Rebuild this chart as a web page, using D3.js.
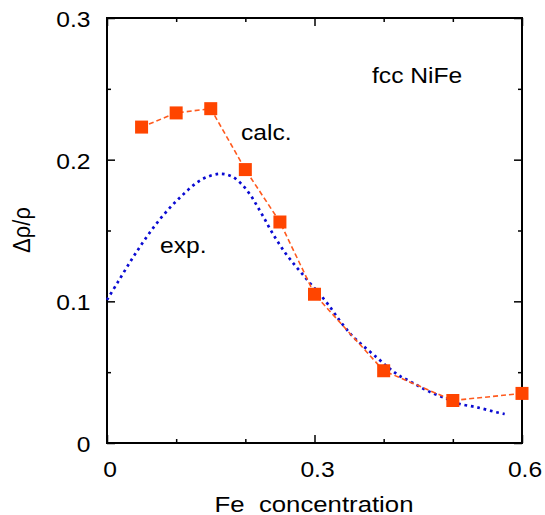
<!DOCTYPE html>
<html>
<head>
<meta charset="utf-8">
<script src="https://cdn.jsdelivr.net/npm/d3@7"></script>
<style>
  html, body { margin: 0; padding: 0; background: #fff; }
  svg { display: block; }
  text { font-family: "Liberation Sans", Arial, Helvetica, sans-serif; fill: #000; }
</style>
</head>
<body>
<svg id="chart" width="545" height="515"></svg>
<script>
// Calculated resistivity anisotropy (squares joined by a dashed line)
const calcX = [0.05, 0.10, 0.15, 0.20, 0.25, 0.30, 0.40, 0.50, 0.60];
const calcY = [0.223, 0.233, 0.236, 0.193, 0.156, 0.105, 0.051, 0.030, 0.035];

// Experimental curve (dotted)
const expX = [0, 0.015, 0.035, 0.056, 0.080, 0.107, 0.137, 0.163, 0.181, 0.196,
              0.208, 0.218, 0.228, 0.237, 0.247, 0.258, 0.270, 0.282, 0.295, 0.307,
              0.321, 0.337, 0.354, 0.370, 0.391, 0.406, 0.421, 0.440, 0.464, 0.491,
              0.509, 0.535, 0.563, 0.575];
const expY = [0.101, 0.113, 0.129, 0.1445, 0.160, 0.174, 0.186, 0.190, 0.188, 0.182,
              0.1745, 0.1665, 0.158, 0.150, 0.142, 0.134, 0.1265, 0.1195, 0.112, 0.1055,
              0.097, 0.086, 0.076, 0.0687, 0.060, 0.0536, 0.048, 0.043, 0.0367, 0.0313,
              0.0277, 0.0252, 0.0217, 0.0205];

// Tick values
const xMajorTicks = [0, 0.3, 0.6];
const xMinorTicks = [0.1, 0.2, 0.4, 0.5];
const yMajorTicks = [0, 0.1, 0.2, 0.3];
const yMinorTicks = [0.05, 0.15, 0.25];
const xTickLabels = ["0", "0.3", "0.6"];
const yTickLabels = ["0", "0.1", "0.2", "0.3"];

const svg = d3.select("#chart");
const plotLeft = 107, plotRight = 522, plotTop = 18, plotBottom = 443;
const SX = 1.12; // horizontal glyph stretch

const x = d3.scaleLinear().domain([0, 0.6]).range([plotLeft, plotRight]);
const y = d3.scaleLinear().domain([0, 0.3]).range([plotBottom, plotTop]);

// helper: stretched text
function label(g, txt, tx, ty, anchor, size, extra) {
  return g.append("text")
    .attr("transform", `translate(${tx},${ty}) scale(${SX},1)` + (extra || ""))
    .attr("text-anchor", anchor)
    .style("font-size", size + "px")
    .text(txt);
}

// ticks on all four sides, pointing inward
function ticks(axisFn, scale, vals, size, transform) {
  const g = svg.append("g").attr("transform", transform)
    .call(axisFn(scale).tickValues(vals).tickSize(-size).tickSizeOuter(0).tickFormat(""));
  g.select(".domain").remove();
  g.selectAll(".tick line").attr("stroke", "#000").attr("stroke-width", 1.5);
  g.selectAll(".tick text").remove();
}
ticks(d3.axisBottom, x, xMajorTicks, 8, `translate(0,${plotBottom})`);
ticks(d3.axisBottom, x, xMinorTicks, 4, `translate(0,${plotBottom})`);
ticks(d3.axisTop, x, xMajorTicks, 8, `translate(0,${plotTop})`);
ticks(d3.axisTop, x, xMinorTicks, 4, `translate(0,${plotTop})`);
ticks(d3.axisLeft, y, yMajorTicks, 8, `translate(${plotLeft},0)`);
ticks(d3.axisLeft, y, yMinorTicks, 4, `translate(${plotLeft},0)`);
ticks(d3.axisRight, y, yMajorTicks, 8, `translate(${plotRight},0)`);
ticks(d3.axisRight, y, yMinorTicks, 4, `translate(${plotRight},0)`);

// frame
svg.append("rect")
  .attr("x", plotLeft).attr("y", plotTop)
  .attr("width", plotRight - plotLeft).attr("height", plotBottom - plotTop)
  .attr("fill", "none").attr("stroke", "#000").attr("stroke-width", 2);

// tick labels
const lbl = svg.append("g");
xMajorTicks.forEach((v, i) => label(lbl, xTickLabels[i], x(v) + 3, 476.5, "middle", 22));
yMajorTicks.forEach((v, i) => label(lbl, yTickLabels[i], 90.5, y(v) + 9, "end", 22));

// axis titles
label(svg, "Fe\u00a0\u00a0concentration", 314, 512, "middle", 23);
label(svg, "\u0394\u03c1/\u03c1", 30, 230, "middle", 22, " rotate(-90)");

// experimental curve
const expData = expX.map((v, i) => [v, expY[i]]);
svg.append("path")
  .datum(expData)
  .attr("d", d3.line().x(d => x(d[0])).y(d => y(d[1])).curve(d3.curveCatmullRom))
  .attr("fill", "none")
  .attr("stroke", "#0a0ad2")
  .attr("stroke-width", 2.7)
  .attr("stroke-dasharray", "2.7,3.8");

// calculated values
const calcData = calcX.map((v, i) => [v, calcY[i]]);
svg.append("path")
  .datum(calcData)
  .attr("d", d3.line().x(d => x(d[0])).y(d => y(d[1])))
  .attr("fill", "none")
  .attr("stroke", "#ff5a1e")
  .attr("stroke-width", 1.6)
  .attr("stroke-dasharray", "5,3");

const sq = 13;
svg.append("g").selectAll("rect")
  .data(calcData)
  .join("rect")
  .attr("x", d => x(d[0]) - sq / 2)
  .attr("y", d => y(d[1]) - sq / 2)
  .attr("width", sq).attr("height", sq)
  .attr("fill", "#ff4500");

// annotations
label(svg, "fcc NiFe", 372, 83, "start", 22);
label(svg, "calc.", 241, 139.5, "start", 22);
label(svg, "exp.", 160, 253, "start", 22);
</script>
</body>
</html>
